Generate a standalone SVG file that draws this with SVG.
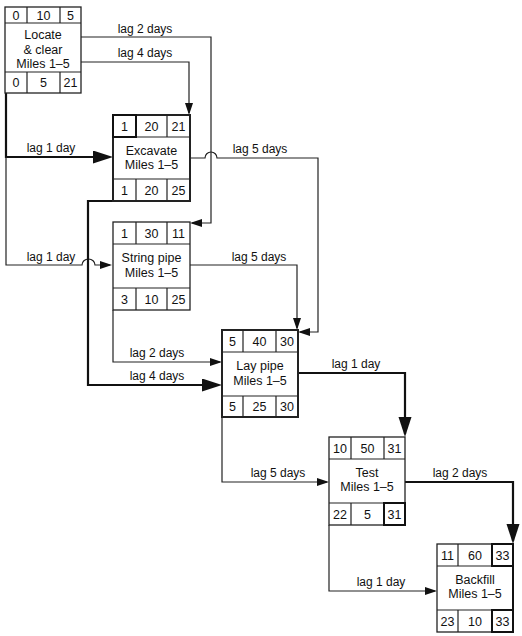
<svg xmlns="http://www.w3.org/2000/svg" width="522" height="636" viewBox="0 0 522 636">
<style>
text{font-family:"Liberation Sans",Arial,sans-serif;font-size:12px;fill:#111;text-anchor:middle}
.n text{font-size:12.5px}
.box{fill:#fff;stroke:#222;stroke-width:1.3}
.crit{stroke-width:2}
.div{stroke:#222;stroke-width:1.2;fill:none}
.ln{fill:none;stroke:#222;stroke-width:1.2}
.thk{fill:none;stroke:#111;stroke-width:2.2}
.hl{fill:none;stroke:#111;stroke-width:2}
</style>
<defs>
<marker id="a" markerUnits="userSpaceOnUse" markerWidth="14" markerHeight="10" refX="10" refY="4" orient="auto"><path d="M0,0L12,4L0,8z" fill="#111"/></marker>
<marker id="A" markerUnits="userSpaceOnUse" markerWidth="22" markerHeight="14" refX="17" refY="6.5" orient="auto"><path d="M0,0L20,6.5L0,13z" fill="#111"/></marker>
</defs>
<rect width="522" height="636" fill="#fff"/>
<g id="connectors">
<path class="thk" d="M6,93V157H110" marker-end="url(#A)"/>
<path class="ln" d="M6,157V265H82a6.5,6 0 0 1 13,0H110" marker-end="url(#a)"/>
<path class="ln" d="M81,37H211V223H192" marker-end="url(#a)"/>
<path class="ln" d="M81,62H189V113" marker-end="url(#a)"/>
<path class="ln" d="M190,158H205a6,6 0 0 1 12,0H318V332H300" marker-end="url(#a)"/>
<path class="thk" d="M113,201H88V385H219" marker-end="url(#A)"/>
<path class="ln" d="M190,265H297V328" marker-end="url(#a)"/>
<path class="ln" d="M113,310V362H220" marker-end="url(#a)"/>
<path class="thk" d="M298,373H405V434" marker-end="url(#A)"/>
<path class="ln" d="M222,417V482H327" marker-end="url(#a)"/>
<path class="thk" d="M405,482H513V541" marker-end="url(#A)"/>
<path class="ln" d="M329,525V591H435" marker-end="url(#a)"/>
<text x="145" y="33">lag 2 days</text>
<text x="145" y="57">lag 4 days</text>
<text x="51" y="152">lag 1 day</text>
<text x="260" y="153">lag 5 days</text>
<text x="51" y="261">lag 1 day</text>
<text x="259" y="261">lag 5 days</text>
<text x="157" y="357">lag 2 days</text>
<text x="157" y="380">lag 4 days</text>
<text x="356" y="368">lag 1 day</text>
<text x="278" y="477">lag 5 days</text>
<text x="460" y="477">lag 2 days</text>
<text x="381" y="586">lag 1 day</text>
</g>
<g id="locate" class="n">
<rect class="box" x="5" y="7" width="76" height="86"/>
<path class="div" d="M5,23H81M5,72H81M27,7V23M60,7V23M27,72V93M60,72V93"/>
<text x="16" y="19.5">0</text><text x="43.5" y="19.5">10</text><text x="70.5" y="19.5">5</text>
<text x="43" y="39">Locate</text><text x="43" y="54">&amp; clear</text><text x="43" y="68">Miles 1–5</text>
<text x="16" y="87">0</text><text x="43.5" y="87">5</text><text x="70.5" y="87">21</text>
</g>
<g id="excavate" class="n">
<rect class="box crit" x="113" y="115" width="77" height="86"/>
<path class="div" d="M113,137H190M113,179H190M136,115V137M167,115V137M136,179V201M167,179V201"/>
<rect class="hl" x="113" y="115" width="23" height="22"/>
<text x="124.5" y="130.5">1</text><text x="151.5" y="130.5">20</text><text x="178.5" y="130.5">21</text>
<text x="151.5" y="155">Excavate</text><text x="151.5" y="169">Miles 1–5</text>
<text x="124.5" y="194.5">1</text><text x="151.5" y="194.5">20</text><text x="178.5" y="194.5">25</text>
</g>
<g id="string-pipe" class="n">
<rect class="box" x="113" y="222" width="77" height="88"/>
<path class="div" d="M113,244H190M113,288H190M136,222V244M167,222V244M136,288V310M167,288V310"/>
<text x="124.5" y="237.5">1</text><text x="151.5" y="237.5">30</text><text x="178.5" y="237.5">11</text>
<text x="151.5" y="262">String pipe</text><text x="151.5" y="277">Miles 1–5</text>
<text x="124.5" y="303.5">3</text><text x="151.5" y="303.5">10</text><text x="178.5" y="303.5">25</text>
</g>
<g id="lay-pipe" class="n">
<rect class="box crit" x="222" y="330" width="76" height="87"/>
<path class="div" d="M222,352H298M222,396H298M243,330V352M276,330V352M243,396V417M276,396V417"/>
<text x="232.5" y="345.5">5</text><text x="259.5" y="345.5">40</text><text x="287" y="345.5">30</text>
<text x="260" y="370">Lay pipe</text><text x="260" y="385">Miles 1–5</text>
<text x="232.5" y="411">5</text><text x="259.5" y="411">25</text><text x="287" y="411">30</text>
</g>
<g id="test" class="n">
<rect class="box" x="329" y="437" width="76" height="88"/>
<path class="div" d="M329,459H405M329,503H405M351,437V459M384,437V459M351,503V525M384,503V525"/>
<rect class="hl" x="384" y="503" width="21" height="22"/>
<text x="340" y="452.5">10</text><text x="367.5" y="452.5">50</text><text x="394.5" y="452.5">31</text>
<text x="367" y="477">Test</text><text x="367" y="491">Miles 1–5</text>
<text x="340" y="518.5">22</text><text x="367.5" y="518.5">5</text><text x="394.5" y="518.5">31</text>
</g>
<g id="backfill" class="n">
<rect class="box" x="437" y="544" width="76" height="88"/>
<path class="div" d="M437,566H513M437,610H513M458,544V566M492,544V566M458,610V632M492,610V632"/>
<rect class="hl" x="492" y="544" width="21" height="22"/>
<rect class="hl" x="492" y="610" width="21" height="22"/>
<path class="hl" d="M513,566V610"/>
<text x="447.5" y="559.5">11</text><text x="475" y="559.5">60</text><text x="502.5" y="559.5">33</text>
<text x="475" y="584">Backfill</text><text x="475" y="598">Miles 1–5</text>
<text x="447.5" y="625.5">23</text><text x="475" y="625.5">10</text><text x="502.5" y="625.5">33</text>
</g>
</svg>
